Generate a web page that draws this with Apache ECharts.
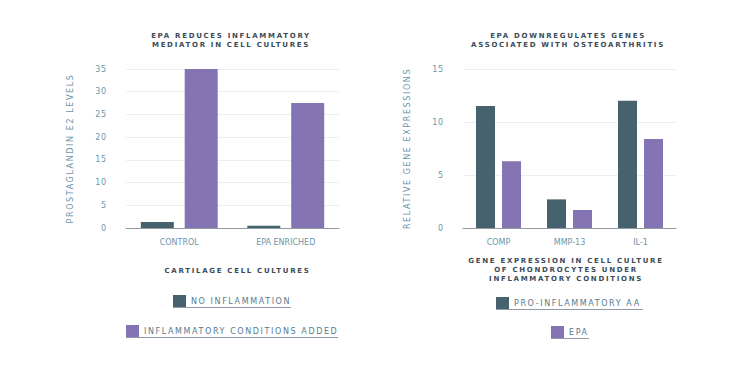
<!DOCTYPE html>
<html>
<head>
<meta charset="utf-8">
<script src="https://cdn.jsdelivr.net/npm/echarts@6/dist/echarts.min.js"></script>
<style>
  html, body { margin: 0; padding: 0; background: #ffffff; }
  #c { width: 749px; height: 367px; }
  #c text[style*="lsA"] { letter-spacing: 1.7px; }
  #c text[style*="lsB"] { letter-spacing: 1.6px; }
  #c text[style*="lsC"] { letter-spacing: 0.8px; }
</style>
</head>
<body>
<div id="c"></div>
<script>
// ---- data ----
const leftCategories = ['CONTROL', 'EPA ENRICHED'];
const noInflammation = [1.3, 0.5];
const inflammatoryAdded = [35, 27.5];
const leftTicks = [0, 5, 10, 15, 20, 25, 30, 35];

const rightCategories = ['COMP', 'MMP-13', 'IL-1'];
const proInflammatoryAA = [11.5, 2.7, 12.0];
const epaValues = [6.3, 1.7, 8.4];
const rightTicks = [0, 5, 10, 15];

const seriesNames = ['NO INFLAMMATION', 'INFLAMMATORY CONDITIONS ADDED', 'PRO-INFLAMMATORY AA', 'EPA'];

// ---- style ----
const DARK = '#46626f';
const PURPLE = '#8574b3';
const TITLE_COLOR = '#3c4b57';
const LABEL_COLOR = '#6a96ab';
const LEGEND_COLOR = '#587a8c';
const FONT_TITLE = 'DejaVu Sans, lsA';
const FONT_SPACED = 'DejaVu Sans, lsB';
const FONT_NUM = 'DejaVu Sans, lsC';
const FONT_PLAIN = 'DejaVu Sans';

function yAxisCfg(gridIndex, ticks, name) {
  return {
    type: 'value', gridIndex,
    min: ticks[0], max: ticks[ticks.length - 1], interval: ticks[1] - ticks[0],
    name, nameLocation: 'middle', nameGap: 52,
    nameTextStyle: { fontFamily: FONT_SPACED, fontSize: 8, color: LABEL_COLOR },
    axisLine: { show: false }, axisTick: { show: false },
    axisLabel: { fontFamily: FONT_NUM, fontSize: 8, color: LABEL_COLOR, margin: 19 },
    splitLine: { lineStyle: { color: '#eceff2', width: 1 } }
  };
}
function xAxisCfg(gridIndex, cats, name, gap, pad) {
  return {
    type: 'category', gridIndex, data: cats,
    name, nameLocation: 'middle', nameGap: gap,
    nameTextStyle: { fontFamily: FONT_TITLE, fontSize: 7, fontWeight: 'bold', color: TITLE_COLOR, lineHeight: 9, padding: pad },
    axisLine: { lineStyle: { color: '#8f9ba5', width: 1 } },
    axisTick: { show: false },
    axisLabel: { fontFamily: FONT_PLAIN, fontSize: 8, color: LABEL_COLOR, margin: 10 }
  };
}
function legendCfg(name, left, top) {
  return {
    data: [name], left, top, padding: 0, icon: 'rect', itemWidth: 13, itemHeight: 12,
    selectedMode: false,
    textStyle: { fontFamily: FONT_SPACED, fontSize: 8, color: LEGEND_COLOR }
  };
}
function underline(x1, x2, y) {
  return { type: 'line', silent: true, shape: { x1, y1: y, x2, y2: y }, style: { stroke: '#8e9ba6', lineWidth: 1 } };
}

const chart = echarts.init(document.getElementById('c'), null, { renderer: 'svg' });
chart.setOption({
  backgroundColor: '#ffffff',
  animation: false,
  title: [
    { text: 'EPA REDUCES INFLAMMATORY\nMEDIATOR IN CELL CULTURES', left: 231, top: 31, textAlign: 'center', padding: 0,
      textStyle: { fontFamily: FONT_TITLE, fontSize: 7, fontWeight: 'bold', color: TITLE_COLOR, lineHeight: 9 } },
    { text: 'EPA DOWNREGULATES GENES\nASSOCIATED WITH OSTEOARTHRITIS', left: 568, top: 31, textAlign: 'center', padding: 0,
      textStyle: { fontFamily: FONT_TITLE, fontSize: 7, fontWeight: 'bold', color: TITLE_COLOR, lineHeight: 9 } }
  ],
  legend: [
    legendCfg(seriesNames[0], 173, 295),
    legendCfg(seriesNames[1], 126, 325),
    legendCfg(seriesNames[2], 496, 297),
    legendCfg(seriesNames[3], 551, 326)
  ],
  grid: [
    { left: 126, top: 69, width: 213, height: 159 },
    { left: 463, top: 69, width: 213, height: 159 }
  ],
  xAxis: [
    xAxisCfg(0, leftCategories, 'CARTILAGE CELL CULTURES', 38, [0, 0, 0, 10]),
    xAxisCfg(1, rightCategories, 'GENE EXPRESSION IN CELL CULTURE\nOF CHONDROCYTES UNDER\nINFLAMMATORY CONDITIONS', 28, [0, 7, 0, 0])
  ],
  yAxis: [
    yAxisCfg(0, leftTicks, 'PROSTAGLANDIN E2 LEVELS'),
    yAxisCfg(1, rightTicks, 'RELATIVE GENE EXPRESSIONS')
  ],
  series: [
    { name: seriesNames[0], type: 'bar', xAxisIndex: 0, yAxisIndex: 0, data: noInflammation,
      barWidth: 33, barGap: '33%', itemStyle: { color: DARK } },
    { name: seriesNames[1], type: 'bar', xAxisIndex: 0, yAxisIndex: 0, data: inflammatoryAdded,
      barWidth: 33, barGap: '33%', itemStyle: { color: PURPLE } },
    { name: seriesNames[2], type: 'bar', xAxisIndex: 1, yAxisIndex: 1, data: proInflammatoryAA,
      barWidth: 19, barGap: '37%', itemStyle: { color: DARK } },
    { name: seriesNames[3], type: 'bar', xAxisIndex: 1, yAxisIndex: 1, data: epaValues,
      barWidth: 19, barGap: '37%', itemStyle: { color: PURPLE } }
  ],
  graphic: [
    underline(173, 291, 307.5),
    underline(126, 338, 337.5),
    underline(496, 643, 309.5),
    underline(551, 589, 338.5)
  ]
});
</script>
</body>
</html>
